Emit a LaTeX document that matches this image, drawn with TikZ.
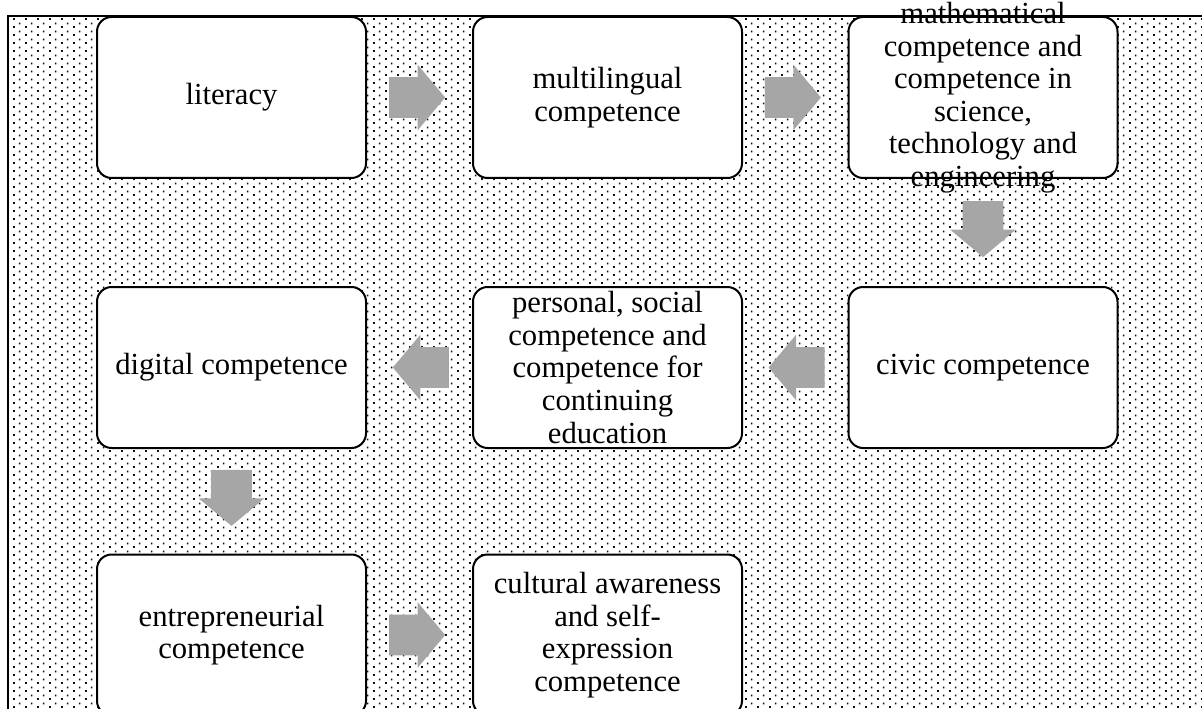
\documentclass[tikz,border=0pt]{standalone}
\usepackage{fontspec}
\setmainfont{Liberation Serif}
\usetikzlibrary{positioning,shapes.arrows,patterns,calc}
\definecolor{arrowgray}{HTML}{A6A6A6}
\definecolor{dotink}{HTML}{111111}

% staggered dot fill for the backdrop
\pgfdeclarepatternformonly{stipple}{\pgfpointorigin}{\pgfqpoint{9pt}{6pt}}{\pgfqpoint{9pt}{6pt}}{%
  \pgfpathrectangle{\pgfqpoint{1pt}{1pt}}{\pgfqpoint{1.4pt}{1.4pt}}%
  \pgfpathrectangle{\pgfqpoint{5.5pt}{4pt}}{\pgfqpoint{1.4pt}{1.4pt}}%
  \pgfusepath{fill}}

\tikzset{
  stage/.style={draw=black, line width=1.5pt, fill=white, rounded corners=11pt,
    minimum width=201.75pt, minimum height=120.75pt, inner sep=0pt},
  stagetext/.style={align=center, font=\fontsize{23}{24.4}\selectfont, inner sep=0pt},
  flow/.style={single arrow, fill=arrowgray, draw=none, minimum height=42pt,
    inner xsep=0pt, inner ysep=15pt, single arrow head extend=9.4pt,
    single arrow tip angle=100, anchor=tip}
}

\begin{document}
\begin{tikzpicture}[x=0.75pt,y=-0.75pt]
\useasboundingbox (0,0) rectangle (1202,709);
\clip (0,0) rectangle (1202,709);

% dotted backdrop with its frame
\fill[pattern=stipple, pattern color=dotink] (8,16) rectangle (1220,730);
\draw[line width=1.5pt] (8,730) -- (8,16) -- (1220,16);

% boxes
\node[stage] (lit) at (231.5,97.5) {};
\node[stage] (multi) at (607.5,97.5) {};
\node[stage] (math) at (983,97.5) {};
\node[stage] (civic) at (983,367.5) {};
\node[stage] (pers) at (607.5,367.5) {};
\node[stage] (digi) at (231.5,367.5) {};
\node[stage] (entr) at (231.5,635) {};
\node[stage] (cult) at (607.5,635) {};

% labels, kept apart so long ones can spill over
\node[stagetext] (litT) at (lit) {literacy};
\node[stagetext] (multiT) at (multi) {multilingual\\competence};
\node[stagetext] (mathT) at (math) {mathematical\\competence and\\competence in\\science,\\technology and\\engineering};
\node[stagetext] (civicT) at (civic) {civic competence};
\node[stagetext] (persT) at (pers) {personal, social\\competence and\\competence for\\continuing\\education};
\node[stagetext] (digiT) at (digi) {digital competence};
\node[stagetext] (entrT) at (entr) {entrepreneurial\\competence};
\node[stagetext] (cultT) at (cult) {cultural awareness\\and self-\\expression\\competence};

% block arrows between the boxes, placed by their tips
\node[flow] (a1) at ($(lit.east)!0.5!(multi.west)+(26,0)$) {};
\node[flow] (a2) at ($(multi.east)!0.5!(math.west)+(26,0)$) {};
\node[flow, rotate=-90] (a3) at ($(math.south)!0.5!(civic.north)+(0,25)$) {};
\node[flow, rotate=180] (a4) at ($(civic.west)!0.5!(pers.east)+(-27,0)$) {};
\node[flow, rotate=180] (a5) at ($(pers.west)!0.5!(digi.east)+(-27,0)$) {};
\node[flow, rotate=-90] (a6) at ($(digi.south)!0.5!(entr.north)+(0,25)$) {};
\node[flow] (a7) at ($(entr.east)!0.5!(cult.west)+(26,0)$) {};
\end{tikzpicture}
\end{document}
